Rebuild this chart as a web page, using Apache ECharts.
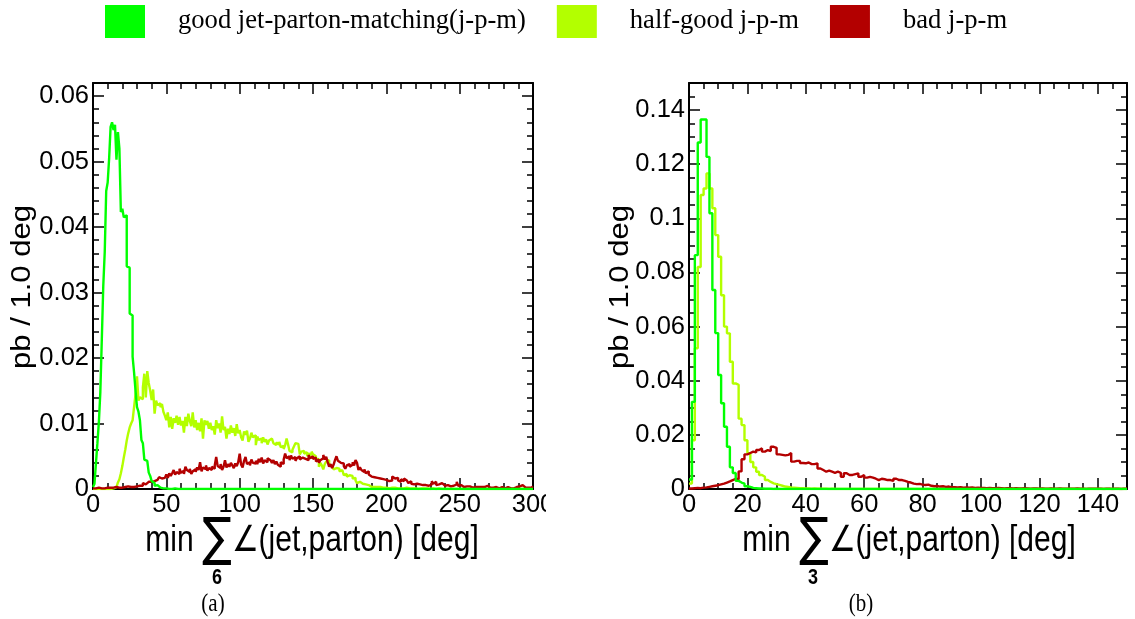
<!DOCTYPE html>
<html>
<head>
<meta charset="utf-8">
<script src="https://cdn.jsdelivr.net/npm/echarts@6/dist/echarts.min.js"></script>
<style>
  html, body { margin: 0; padding: 0; background: #fff; }
  #chart { width: 1135px; height: 619px; }
</style>
</head>
<body>
<div id="chart"></div>
<script>
// Matching categories shown in the legend
const seriesNames = ['good jet-parton-matching(j-p-m)', 'half-good j-p-m', 'bad j-p-m'];
const seriesColors = ['#00ff00', '#b3ff00', '#b30000'];

// Panel (a): min sum over 6 jets, 1 degree bins from 0 to 300 deg (pb / 1.0 deg)
const goodA = [
  0.0003,0.0008,0.0039,0.0070,0.0102,0.0148,0.0228,0.0310,0.0362,0.0455,
  0.0468,0.0505,0.0553,0.0560,0.0548,0.0556,0.0503,0.0545,0.0520,0.0423,
  0.0428,0.0415,0.0418,0.0340,0.0338,0.0268,0.0265,0.0202,0.0178,0.0150,
  0.0125,0.0118,0.0105,0.0075,0.0070,0.0045,0.0043,0.0045,0.0025,0.0020,
  0.0012,0.0009,0.0005,0.0006,0.0003,0.0002,0.0002,0.0001,0.0002,0.0001,
  0.0001,0,0.0001,0,0,0.0001,0,0,0,0,
  0,0,0,0,0,0,0,0,0,0, 0,0,0,0,0,0,0,0,0,0, 0,0,0,0,0,0,0,0,0,0,
  0,0,0,0,0,0,0,0,0,0, 0,0,0,0,0,0,0,0,0,0, 0,0,0,0,0,0,0,0,0,0,
  0,0,0,0,0,0,0,0,0,0, 0,0,0,0,0,0,0,0,0,0, 0,0,0,0,0,0,0,0,0,0,
  0,0,0,0,0,0,0,0,0,0, 0,0,0,0,0,0,0,0,0,0, 0,0,0,0,0,0,0,0,0,0,
  0,0,0,0,0,0,0,0,0,0, 0,0,0,0,0,0,0,0,0,0, 0,0,0,0,0,0,0,0,0,0,
  0,0,0,0,0,0,0,0,0,0, 0,0,0,0,0,0,0,0,0,0, 0,0,0,0,0,0,0,0,0,0,
  0,0,0,0,0,0,0,0,0,0, 0,0,0,0,0,0,0,0,0,0, 0,0,0,0,0,0,0,0,0,0,
  0,0,0,0,0,0,0,0,0,0, 0,0,0,0,0,0,0,0,0,0, 0,0,0,0,0,0,0,0,0,0
];
const halfA = [
  0,0,0,0,0,0,0,0,0,0,
  0.0001,0,0.0001,0.0001,0.0002,0.0003,0.0005,0.0010,0.0015,0.0024,
  0.0035,0.0048,0.0060,0.0074,0.0085,0.0094,0.0100,0.0105,0.0125,0.0145,
  0.0172,0.0135,0.0140,0.0137,0.0155,0.0176,0.0140,0.0180,0.0162,0.0150,
  0.0136,0.0152,0.0115,0.0135,0.0128,0.0131,0.0125,0.0130,0.0118,0.0112,
  0.0105,0.0117,0.0094,0.0110,0.0092,0.0108,0.0101,0.0112,0.0098,0.0110,
  0.0097,0.0104,0.0086,0.0110,0.0096,0.0115,0.0104,0.0096,0.0117,0.0094,
  0.0105,0.0090,0.0101,0.0088,0.0108,0.0077,0.0105,0.0098,0.0104,0.0092,
  0.0101,0.0090,0.0096,0.0083,0.0105,0.0093,0.0100,0.0086,0.0111,0.0090,
  0.0095,0.0077,0.0092,0.0084,0.0097,0.0086,0.0093,0.0081,0.0099,0.0085,
  0.0090,0.0079,0.0074,0.0088,0.0083,0.0089,0.0072,0.0077,0.0086,0.0079,
  0.0082,0.0067,0.0080,0.0075,0.0077,0.0070,0.0079,0.0072,0.0076,0.0068,
  0.0074,0.0077,0.0076,0.0070,0.0067,0.0071,0.0068,0.0072,0.0064,0.0066,
  0.0061,0.0067,0.0077,0.0068,0.0058,0.0056,0.0060,0.0065,0.0070,0.0069,
  0.0066,0.0053,0.0057,0.0058,0.0054,0.0056,0.0050,0.0054,0.0052,0.0057,
  0.0053,0.0050,0.0044,0.0046,0.0034,0.0040,0.0036,0.0030,0.0038,0.0042,
  0.0044,0.0037,0.0035,0.0038,0.0030,0.0032,0.0034,0.0031,0.0027,0.0029,
  0.0026,0.0021,0.0023,0.0019,0.0021,0.0018,0.0020,0.0016,0.0017,0.0013,
  0.0009,0.0011,0.0010,0.0008,0.0009,0.0007,0.0008,0.0006,0.0005,0.0003,
  0.0004,0.0003,0.0004,0.0003,0.0002,0.0003,0.0002,0.0002,0.0003,0.0002,
  0.0002,0.0001,0.0002,0.0002,0.0001,0.0002,0.0001,0.0001,0.0002,0.0001,
  0.0001,0.0001,0.0001,0.0002,0.0001,0.0001,0.0001,0.0001,0.0001,0.0001,
  0.0001,0,0.0001,0.0001,0,0.0001,0,0.0001,0,0,
  0,0.0001,0,0,0,0.0001,0,0,0,0,
  0,0,0,0,0,0,0,0,0,0, 0,0,0,0,0,0,0,0,0,0, 0,0,0,0,0,0,0,0,0,0,
  0,0,0,0,0,0,0,0,0,0, 0,0,0,0,0,0,0,0,0,0, 0,0,0,0,0,0,0,0,0,0
];
const badA = [
  0.0001,0.0001,0.0001,0.0002,0.0001,0.0001,0.0002,0.0001,0.0002,0.0002,
  0.0002,0.0002,0.0001,0.0002,0.0002,0.0003,0.0002,0.0002,0.0003,0.0002,
  0.0003,0.0003,0.0002,0.0004,0.0003,0.0003,0.0004,0.0003,0.0004,0.0004,
  0.0004,0.0005,0.0006,0.0005,0.0009,0.0007,0.0010,0.0011,0.0009,0.0011,
  0.0010,0.0012,0.0011,0.0014,0.0012,0.0018,0.0016,0.0015,0.0017,0.0019,
  0.0022,0.0017,0.0024,0.0020,0.0024,0.0029,0.0022,0.0026,0.0023,0.0031,
  0.0025,0.0028,0.0023,0.0034,0.0029,0.0026,0.0031,0.0023,0.0027,0.0030,
  0.0026,0.0033,0.0029,0.0041,0.0027,0.0033,0.0030,0.0036,0.0028,0.0032,
  0.0029,0.0034,0.0031,0.0036,0.0049,0.0035,0.0032,0.0038,0.0029,0.0034,
  0.0044,0.0033,0.0038,0.0034,0.0040,0.0036,0.0032,0.0039,0.0035,0.0041,
  0.0054,0.0037,0.0033,0.0043,0.0049,0.0038,0.0041,0.0036,0.0045,0.0040,
  0.0039,0.0043,0.0038,0.0046,0.0041,0.0048,0.0039,0.0044,0.0041,0.0047,
  0.0044,0.0042,0.0040,0.0044,0.0038,0.0042,0.0037,0.0034,0.0041,0.0038,
  0.0045,0.0054,0.0047,0.0050,0.0044,0.0051,0.0046,0.0049,0.0043,0.0047,
  0.0050,0.0045,0.0048,0.0051,0.0046,0.0049,0.0044,0.0052,0.0047,0.0050,
  0.0046,0.0048,0.0042,0.0045,0.0040,0.0044,0.0047,0.0052,0.0045,0.0049,
  0.0041,0.0034,0.0038,0.0032,0.0037,0.0044,0.0050,0.0043,0.0040,0.0043,
  0.0039,0.0035,0.0031,0.0036,0.0038,0.0034,0.0037,0.0041,0.0036,0.0044,
  0.0040,0.0029,0.0033,0.0029,0.0026,0.0030,0.0024,0.0027,0.0022,0.0019,
  0.0021,0.0018,0.0015,0.0017,0.0014,0.0016,0.0013,0.0015,0.0012,0.0014,
  0.0011,0.0012,0.0010,0.0013,0.0019,0.0016,0.0014,0.0017,0.0013,0.0011,
  0.0015,0.0012,0.0016,0.0013,0.0011,0.0009,0.0012,0.0008,0.0007,0.0009,
  0.0008,0.0010,0.0007,0.0009,0.0006,0.0008,0.0006,0.0007,0.0005,0.0006,
  0.0007,0.0012,0.0008,0.0011,0.0006,0.0007,0.0005,0.0009,0.0006,0.0005,
  0.0004,0.0006,0.0005,0.0004,0.0006,0.0005,0.0004,0.0007,0.0011,0.0005,
  0.0006,0.0004,0.0003,0.0005,0.0004,0.0003,0.0004,0.0003,0.0002,0.0003,
  0.0003,0.0004,0.0003,0.0002,0.0003,0.0002,0.0003,0.0004,0.0005,0.0004,
  0.0002,0.0003,0.0002,0.0001,0.0003,0.0002,0.0001,0.0002,0.0003,0.0002,
  0.0001,0.0002,0.0003,0.0002,0.0001,0.0002,0.0001,0.0002,0.0003,0.0002,
  0.0004,0.0002,0.0006,0.0003,0.0002,0.0001,0.0002,0.0003,0.0002,0.0004
];

// Panel (b): min sum over 3 jets, 1 degree bins from 0 to 150 deg (pb / 1.0 deg)
const goodB = [
  0.0035,0.0322,0.0864,0.1280,0.1365,0.1365,0.1227,0.1019,0.0735,0.0576,
  0.0421,0.0317,0.0230,0.0156,0.0080,0.0059,0.0030,0.0024,0.0020,0.0010,
  0.0008,0.0004,0.0003,0.0002,0.0002,0.0001,0.0001,0.0001,0,0.0001,
  0,0,0,0,0,0,0,0,0,0, 0,0,0,0,0,0,0,0,0,0, 0,0,0,0,0,0,0,0,0,0,
  0,0,0,0,0,0,0,0,0,0, 0,0,0,0,0,0,0,0,0,0, 0,0,0,0,0,0,0,0,0,0,
  0,0,0,0,0,0,0,0,0,0, 0,0,0,0,0,0,0,0,0,0, 0,0,0,0,0,0,0,0,0,0,
  0,0,0,0,0,0,0,0,0,0, 0,0,0,0,0,0,0,0,0,0, 0,0,0,0,0,0,0,0,0,0
];
const halfB = [
  0.0020,0.0180,0.0520,0.0820,0.1086,0.1110,0.1166,0.1110,0.1037,0.0938,
  0.0858,0.0716,0.0600,0.0575,0.0470,0.0390,0.0385,0.0260,0.0236,0.0180,
  0.0132,0.0100,0.0080,0.0064,0.0052,0.0045,0.0033,0.0026,0.0021,0.0018,
  0.0015,0.0012,0.0009,0.0008,0.0006,0.0005,0.0004,0.0003,0.0003,0.0002,
  0.0002,0.0001,0.0002,0.0001,0.0001,0.0001,0.0001,0,0.0001,0,
  0,0,0,0,0,0,0,0,0,0, 0,0,0,0,0,0,0,0,0,0, 0,0,0,0,0,0,0,0,0,0,
  0,0,0,0,0,0,0,0,0,0, 0,0,0,0,0,0,0,0,0,0, 0,0,0,0,0,0,0,0,0,0,
  0,0,0,0,0,0,0,0,0,0, 0,0,0,0,0,0,0,0,0,0, 0,0,0,0,0,0,0,0,0,0,
  0,0,0,0,0,0,0,0,0,0
];
const badB = [
  0.0002,0.0003,0.0004,0.0003,0.0005,0.0006,0.0008,0.0010,0.0012,0.0014,
  0.0017,0.0020,0.0024,0.0028,0.0033,0.0037,0.0036,0.0065,0.0110,0.0128,
  0.0133,0.0138,0.0135,0.0144,0.0150,0.0138,0.0144,0.0140,0.0156,0.0152,
  0.0128,0.0126,0.0124,0.0126,0.0133,0.0101,0.0104,0.0104,0.0096,0.0095,
  0.0098,0.0092,0.0092,0.0095,0.0076,0.0070,0.0064,0.0068,0.0064,0.0060,
  0.0064,0.0060,0.0045,0.0058,0.0052,0.0052,0.0055,0.0058,0.0045,0.0052,
  0.0042,0.0045,0.0042,0.0038,0.0033,0.0038,0.0036,0.0033,0.0033,0.0030,
  0.0038,0.0033,0.0033,0.0030,0.0026,0.0024,0.0020,0.0018,0.0019,0.0016,
  0.0015,0.0016,0.0012,0.0010,0.0011,0.0009,0.0010,0.0008,0.0009,0.0007,
  0.0007,0.0006,0.0007,0.0005,0.0006,0.0005,0.0006,0.0004,0.0005,0.0004,
  0.0004,0.0003,0.0004,0.0003,0.0003,0.0004,0.0003,0.0002,0.0003,0.0003,
  0.0002,0.0003,0.0002,0.0002,0.0003,0.0002,0.0001,0.0002,0.0002,0.0001,
  0.0002,0.0001,0.0001,0.0002,0.0001,0.0001,0.0002,0.0001,0.0001,0.0001,
  0.0001,0.0001,0.0002,0.0001,0.0001,0,0.0001,0.0001,0.0001,0.0001,
  0.0001,0,0.0001,0.0001,0,0.0001,0.0001,0,0.0001,0.0001
];

// Axis ranges: [max, major interval, minor subdivisions]
const xRangeA = [300, 50, 5];
const yRangeA = [0.062, 0.01, 5];
const xRangeB = [150, 20, 4];
const yRangeB = [0.15, 0.02, 4];

const yTitle = 'pb / 1.0 deg';
const xTitleA = { lead: 'min ', sum: '\u2211', rest: '\u2220(jet,parton) [deg]', sub: '6' };
const xTitleB = { lead: 'min ', sum: '\u2211', rest: '\u2220(jet,parton) [deg]', sub: '3' };
const captions = ['(a)', '(b)'];

// Histogram outline: each bin is a flat step from its low edge to its high edge
function histPoints(bins) {
  const pts = bins.map((v, i) => [i, v]);
  pts.push([bins.length, bins[bins.length - 1]]);
  return pts;
}

const SANS = 'Liberation Sans, Arial, sans-serif';
const SERIF = 'Liberation Serif, Times New Roman, serif';

function frameAxis(kind, gridIndex, range, withLabels, position) {
  const [max, interval, minor] = range;
  return {
    type: 'value', gridIndex, position, min: 0, max, interval,
    axisLine: { show: true, onZero: false, lineStyle: { color: '#000', width: 2 } },
    axisTick: { show: true, inside: true, length: 11, lineStyle: { color: '#000', width: 1.5 } },
    minorTick: { show: true, splitNumber: minor, length: 6, lineStyle: { color: '#000', width: 1.5 } },
    splitLine: { show: false },
    axisLabel: {
      show: withLabels, color: '#000', fontFamily: SANS, fontSize: 25.5,
      margin: kind === 'x' ? 3 : 4, showMaxLabel: max % interval === 0
    }
  };
}

const xAxes = [
  frameAxis('x', 0, xRangeA, true, 'bottom'),
  frameAxis('x', 0, xRangeA, false, 'top'),
  frameAxis('x', 1, xRangeB, true, 'bottom'),
  frameAxis('x', 1, xRangeB, false, 'top')
];
const yAxes = [
  frameAxis('y', 0, yRangeA, true, 'left'),
  frameAxis('y', 0, yRangeA, false, 'right'),
  frameAxis('y', 1, yRangeB, true, 'left'),
  frameAxis('y', 1, yRangeB, false, 'right')
];

const panels = [
  { x: 0, y: 0, data: [goodA, halfA, badA] },
  { x: 2, y: 2, data: [goodB, halfB, badB] }
];
const drawOrder = [1, 2, 0]; // half-good underneath, good on top
const series = [];
panels.forEach(p => {
  drawOrder.forEach((k, j) => {
    series.push({
      type: 'line', name: seriesNames[k], xAxisIndex: p.x, yAxisIndex: p.y,
      data: histPoints(p.data[k]), step: 'end', symbol: 'none', showSymbol: false,
      lineStyle: { color: seriesColors[k], width: 2.4 }, itemStyle: { color: seriesColors[k] },
      z: 3 + j, animation: false, silent: true
    });
  });
});

function xTitle(t, cx, subX) {
  return [
    {
      type: 'text', x: cx, y: 541, scaleY: 1.2,
      style: {
        text: '{a|' + t.lead + '}{s|' + t.sum + '}{a|' + t.rest + '}',
        align: 'center', verticalAlign: 'middle',
        rich: {
          a: { fontFamily: SANS, fontSize: 30, fill: '#000', verticalAlign: 'middle' },
          s: { fontFamily: 'DejaVu Sans, sans-serif', fontSize: 44, fill: '#000', verticalAlign: 'middle' }
        }
      }
    },
    {
      type: 'text', x: subX, y: 578, scaleY: 1.2,
      style: { text: t.sub, fontFamily: SANS, fontSize: 18, fontWeight: 'bold', fill: '#000', align: 'center', verticalAlign: 'middle' }
    }
  ];
}
function yTitleEl(cx) {
  return {
    type: 'text', x: cx, y: 287, rotation: Math.PI / 2, scaleX: 1.15,
    style: { text: yTitle, fontFamily: SANS, fontSize: 27, fill: '#000', align: 'center', verticalAlign: 'middle' }
  };
}
function caption(text, cx) {
  return {
    type: 'text', x: cx, y: 604, scaleY: 1.2,
    style: { text, fontFamily: SERIF, fontSize: 21, fill: '#000', align: 'center', verticalAlign: 'middle' }
  };
}

const chart = echarts.init(document.getElementById('chart'), null, { renderer: 'canvas' });
chart.setOption({
  backgroundColor: '#fff',
  animation: false,
  legend: {
    data: seriesNames, left: 105, top: 5, padding: 0, icon: 'rect',
    itemWidth: 40, itemHeight: 33, itemGap: 31, selectedMode: false,
    textStyle: { fontFamily: SERIF, fontSize: 26.6, color: '#000', padding: [0, 0, 0, 28] }
  },
  grid: [
    { left: 93, top: 83, width: 440, height: 406 },
    { left: 689, top: 83, width: 438, height: 406 }
  ],
  xAxis: xAxes,
  yAxis: yAxes,
  series,
  graphic: [
    yTitleEl(23), yTitleEl(621),
    ...xTitle(xTitleA, 312, 217),
    ...xTitle(xTitleB, 909, 813),
    caption(captions[0], 213), caption(captions[1], 861),
    // the last x label of panel (a) is cut by the panel edge
    { type: 'rect', shape: { x: 546, y: 492, width: 20, height: 30 }, style: { fill: '#fff' }, z: 100 }
  ]
});
</script>
</body>
</html>
